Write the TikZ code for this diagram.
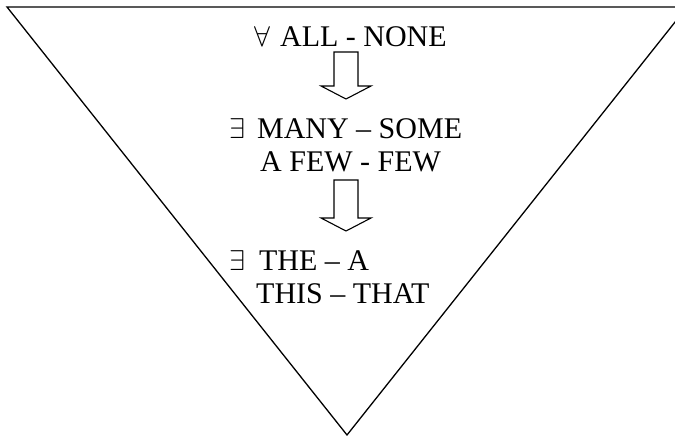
\documentclass[tikz,border=0pt]{standalone}
\usepackage{fontspec}
\setmainfont{Liberation Serif}
\newcommand{\bigq}[1]{\scalebox{1.15}{$#1$}}
\begin{document}
\begin{tikzpicture}[x=1pt,y=-1pt,
  lbl/.style={anchor=base west,inner sep=0pt,font=\fontsize{30}{32}\selectfont},
  blockarrow/.style={draw=black,line width=1.1pt,fill=white,line join=miter}]
\useasboundingbox (0,0) rectangle (675,436);
\clip (0,0) rectangle (675,436);
% triangle
\coordinate (tl) at (7,7);
\coordinate (tr) at (687,7);
\coordinate (ap) at (347,435);
\draw[line width=1.3pt] (tl) -- (tr) -- (ap) -- cycle;
% texts
\node[lbl] (l1) at (254,47) {\bigq{\forall}\hspace{10pt}ALL - NONE};
\node[lbl] (l2) at (229,138) {\bigq{\exists}\hspace{12pt}MANY – SOME};
\node[lbl] (l3) at (260,171) {A FEW - FEW};
\node[lbl] (l4) at (229,270) {\bigq{\exists}\hspace{14pt}THE – A};
\node[lbl] (l5) at (256,303) {THIS – THAT};
% block arrows
\coordinate (a1) at (346,52);
\draw[blockarrow] (a1) ++(-12,0) -- ++(24,0) -- ++(0,34) -- ++(13,0) -- ++(-25,13) -- ++(-25,-13) -- ++(13,0) -- cycle;
\coordinate (a2) at (346,180);
\draw[blockarrow] (a2) ++(-12,0) -- ++(24,0) -- ++(0,38) -- ++(13,0) -- ++(-25,13) -- ++(-25,-13) -- ++(13,0) -- cycle;
\end{tikzpicture}
\end{document}
